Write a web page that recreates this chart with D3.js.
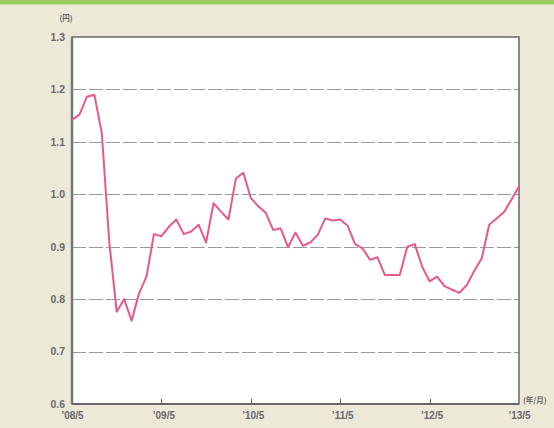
<!DOCTYPE html>
<html><head><meta charset="utf-8">
<script src="https://cdn.jsdelivr.net/npm/d3@7"></script>
<style>html,body{margin:0;padding:0;background:#ece9d9;}svg{display:block;}</style>
</head><body>
<script>
const startYear = 2008, startMonth = 5;
const values = [1.142,1.152,1.186,1.190,1.117,0.910,0.776,0.800,0.759,0.811,0.843,0.924,
0.920,0.938,0.952,0.924,0.929,0.942,0.908,0.983,0.967,0.952,1.030,1.041,
0.993,0.977,0.965,0.932,0.935,0.899,0.927,0.902,0.908,0.923,0.954,0.950,
0.952,0.940,0.905,0.897,0.875,0.880,0.846,0.846,0.846,0.900,0.905,0.862,
0.834,0.843,0.825,0.818,0.812,0.827,0.854,0.878,0.942,0.954,0.966,0.990,1.015];
const yTicks = [0.6,0.7,0.8,0.9,1.0,1.1,1.2,1.3];
const xTickLabels = ["’08/5","’09/5","’10/5","’11/5","’12/5","’13/5"];
const xTickIdx = [0,12,24,36,48,60];
const yUnit = "(円)", xUnit = "(年/月)";

const W = 554, H = 428;
const m = {left:72, right:35, top:37, bottom:24};
const svg = d3.select("body").append("svg").attr("width",W).attr("height",H);
svg.append("rect").attr("width",W).attr("height",H).attr("fill","#ece9d9");
svg.append("rect").attr("x",0).attr("y",0).attr("width",W).attr("height",4).attr("fill","#9ccb62");
svg.append("rect").attr("x",0).attr("y",4).attr("width",W).attr("height",1).attr("fill","#c8dfa8");

const x = d3.scaleLinear().domain([0,60]).range([m.left, W-m.right]);
const y = d3.scaleLinear().domain([0.6,1.3]).range([H-m.bottom, m.top]);

svg.append("rect").attr("x",x(0)).attr("y",y(1.3)).attr("width",x(60)-x(0)).attr("height",y(0.6)-y(1.3)).attr("fill","#fff");

// grid
svg.append("g").selectAll("line").data(yTicks.filter(v=>v>0.6 && v<1.3)).join("line")
  .attr("x1",x(0)).attr("x2",x(60)).attr("y1",d=>Math.round(y(d))+0.5).attr("y2",d=>Math.round(y(d))+0.5)
  .attr("stroke","#9a9a9a").attr("stroke-width",1).attr("stroke-dasharray","14,3");

// y axis labels
const yAxis = d3.axisLeft(y).tickValues(yTicks).tickFormat(d3.format(".1f")).tickSize(0).tickPadding(7);
const gy = svg.append("g").attr("transform",`translate(${x(0)},0)`).call(yAxis);
gy.select(".domain").remove();
gy.selectAll("text").attr("font-family","Liberation Sans, Arial, sans-serif").attr("font-size",10.5).attr("font-weight","bold").attr("fill","#6a6a6a");

// x axis
const xAxis = d3.axisBottom(x).tickValues(xTickIdx).tickFormat((d,i)=>xTickLabels[i]).tickSize(0).tickPadding(8);
const gx = svg.append("g").attr("transform",`translate(0,${y(0.6)})`).call(xAxis);
gx.select(".domain").remove();
gx.selectAll("text").attr("font-family","Liberation Sans, Arial, sans-serif").attr("font-size",10).attr("font-weight","bold").attr("fill","#6a6a6a");
gx.selectAll(".tick").filter((d,i)=>i>0 && i<5).select("text").attr("dx",2);

// inner tick marks
svg.append("g").selectAll("line").data(xTickIdx.slice(1,5)).join("line")
  .attr("x1",d=>Math.round(x(d))+0.5).attr("x2",d=>Math.round(x(d))+0.5)
  .attr("y1",y(0.6)).attr("y2",y(0.6)-5).attr("stroke","#555").attr("stroke-width",1);

// frame
svg.append("rect").attr("x",x(0)).attr("y",y(1.3)).attr("width",x(60)-x(0)).attr("height",y(0.6)-y(1.3))
  .attr("fill","none").attr("stroke","#666").attr("stroke-width",1.5);
svg.append("line").attr("x1",x(0)).attr("x2",x(0)).attr("y1",y(1.3)).attr("y2",y(0.6)).attr("stroke","#777").attr("stroke-width",2.5);
svg.append("line").attr("x1",x(0)).attr("x2",x(60)).attr("y1",y(0.6)).attr("y2",y(0.6)).attr("stroke","#666").attr("stroke-width",2);

// line
const line = d3.line().x((d,i)=>x(i)).y(d=>y(d));
svg.append("path").datum(values).attr("d",line).attr("fill","none")
  .attr("stroke","#e6588f").attr("stroke-width",2).attr("stroke-linejoin","round");

// unit labels
svg.append("text").attr("x",66).attr("y",21).attr("text-anchor","middle")
  .attr("font-family","Noto Sans CJK JP, sans-serif").attr("font-size",7.5).attr("font-weight","bold").attr("fill","#666").text(yUnit);
svg.append("text").attr("x",x(60)+4).attr("y",y(0.6)-1)
  .attr("font-family","Noto Sans CJK JP, sans-serif").attr("font-size",7.5).attr("font-weight","bold").attr("fill","#666").text(xUnit);
</script>
</body></html>
